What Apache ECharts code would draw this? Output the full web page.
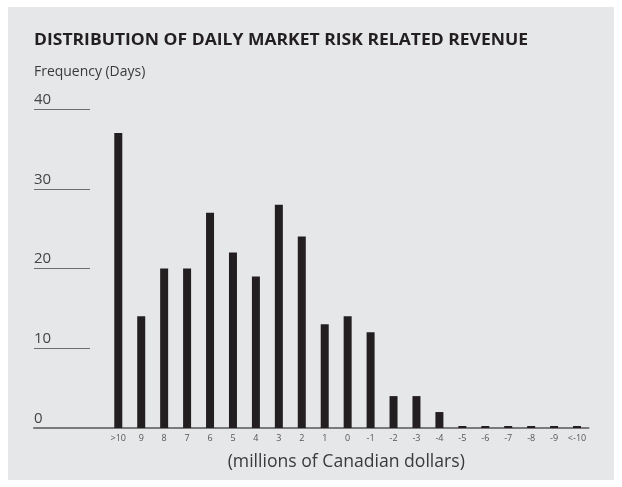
<!DOCTYPE html>
<html>
<head>
<meta charset="utf-8">
<script src="https://cdn.jsdelivr.net/npm/echarts@6/dist/echarts.min.js"></script>
<style>
  html, body { margin: 0; padding: 0; background: #fff; }
  #chart { width: 622px; height: 487px; }
</style>
</head>
<body>
<div id="chart"></div>
<script>
const categories = ['>10', '9', '8', '7', '6', '5', '4', '3', '2', '1', '0', '-1', '-2', '-3', '-4', '-5', '-6', '-7', '-8', '-9', '<-10']
const days = [37, 14, 20, 20, 27, 22, 19, 28, 24, 13, 14, 12, 4, 4, 2, 0, 0, 0, 0, 0, 0]
const yTicks = [0, 10, 20, 30, 40]

// three empty slots on the left so the bars start right of the short gridlines
const padCount = 3
const paddedCats = Array(padCount).fill('').concat(categories)
const paddedDays = Array(padCount).fill(null).concat(days)

const font = 'Open Sans'
const gridTop = 109
const gridBottom = 487 - 428

const chart = echarts.init(document.getElementById('chart'), null, { renderer: 'canvas' })

chart.setOption({
  backgroundColor: '#ffffff',
  animation: false,
  graphic: [
    {
      type: 'rect',
      z: -10,
      shape: { x: 8, y: 7, width: 606, height: 473 },
      style: { fill: '#e6e7e8' }
    },
    {
      // the original face is wider than Open Sans, so stretch it a bit
      type: 'text',
      x: 34,
      y: 41,
      scaleX: 1.13,
      style: {
        text: 'DISTRIBUTION OF DAILY MARKET RISK RELATED REVENUE',
        font: 'bold 15.5px "' + font + '"',
        fill: '#231f20',
        verticalAlign: 'middle'
      }
    },
    {
      type: 'text',
      x: 34,
      y: 72,
      scaleX: 0.93,
      style: {
        text: 'Frequency (Days)',
        font: '15px "' + font + '"',
        fill: '#3a3a3a',
        verticalAlign: 'middle'
      }
    }
  ],
  grid: [
    { left: 38, right: 33.5, top: gridTop, bottom: gridBottom },
    { left: 34, width: 56, top: gridTop, bottom: gridBottom }
  ],
  xAxis: [
    {
      type: 'category',
      gridIndex: 0,
      data: paddedCats,
      axisLine: { lineStyle: { color: '#7a7a7a', width: 2 } },
      axisTick: { show: false },
      axisLabel: { color: '#555', fontSize: 9, fontFamily: font, margin: 6, interval: 0 },
      name: '(millions of Canadian dollars)',
      nameLocation: 'middle',
      nameGap: 25,
      nameTextStyle: { color: '#3a3a3a', fontSize: 17.6, fontFamily: font, padding: [0, 0, 0, 66] }
    },
    {
      type: 'value',
      gridIndex: 1,
      axisLine: { show: true, onZero: false, lineStyle: { color: '#7a7a7a', width: 2 } },
      axisTick: { show: false },
      axisLabel: { show: false },
      splitLine: { show: false }
    }
  ],
  yAxis: [
    {
      type: 'value',
      gridIndex: 0,
      min: 0, max: 40, interval: 10,
      show: false
    },
    {
      type: 'value',
      gridIndex: 1,
      min: yTicks[0], max: yTicks[yTicks.length - 1], interval: 10,
      axisLine: { show: false },
      axisTick: { show: false },
      axisLabel: {
        inside: true,
        margin: 0,
        verticalAlign: 'bottom',
        padding: [0, 0, 2, 0],
        color: '#444',
        fontSize: 15,
        fontFamily: font
      },
      splitLine: { lineStyle: { color: '#6d6e70', width: 1 } }
    }
  ],
  series: [
    {
      type: 'bar',
      xAxisIndex: 0,
      yAxisIndex: 0,
      data: paddedDays,
      barWidth: 8,
      barMinHeight: 2,
      itemStyle: { color: '#231f20' }
    }
  ]
})
</script>
</body>
</html>
